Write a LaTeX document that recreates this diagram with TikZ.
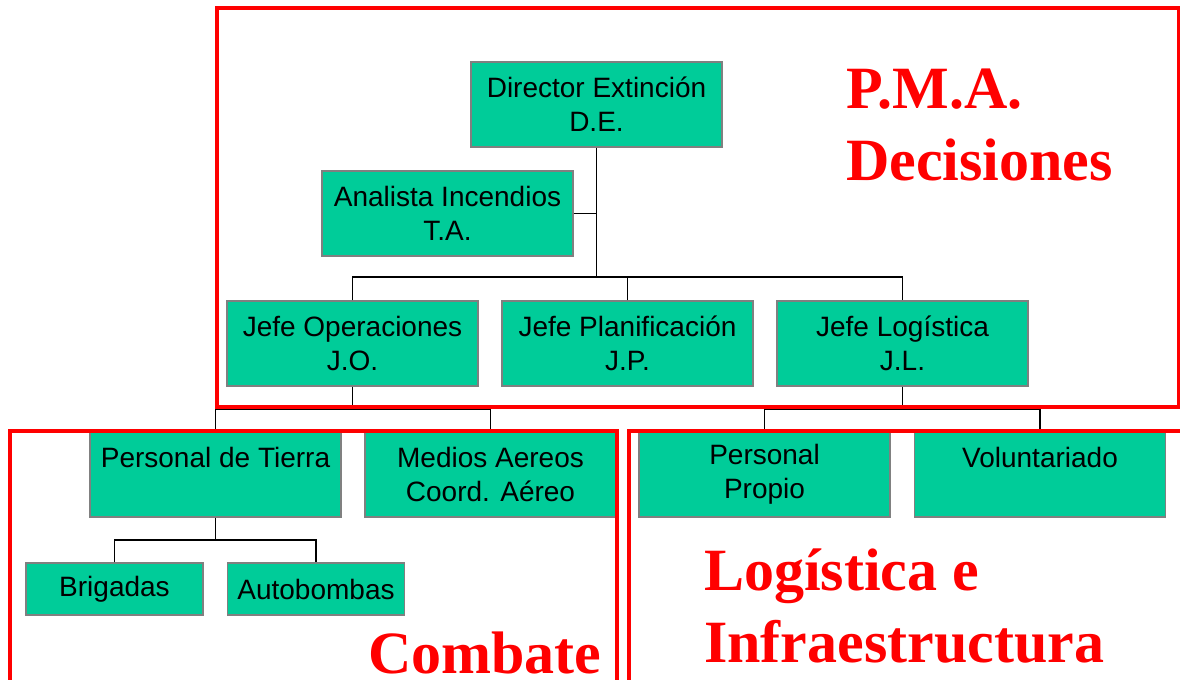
\documentclass[tikz,border=0pt]{standalone}
\usepackage{fontspec}
\setmainfont{Liberation Sans}
\newfontfamily\titlefont{Liberation Serif}
\definecolor{boxgreen}{RGB}{0,204,153}
\definecolor{boxgray}{RGB}{128,128,128}
\tikzset{
  cargo/.style={draw=boxgray, line width=1pt, fill=boxgreen, minimum width=188.25pt, minimum height=63.75pt,
    inner sep=0pt, align=center, font=\fontsize{21}{25.5}\selectfont},
  cargochico/.style={cargo, minimum width=132.75pt, minimum height=39pt},
  zona/.style={draw=red, line width=2.4pt},
  titulo/.style={text=red, anchor=base west, align=left, inner sep=0pt,
    font=\titlefont\bfseries\fontsize{45}{54}\selectfont},
  enlace/.style={line width=1pt}
}
\begin{document}
\begin{tikzpicture}[x=0.75pt, y=-0.75pt]
\useasboundingbox (0,0) rectangle (1180,679);
\node[cargo] (DE) at (596.5,104.5) {Director Extinción\\D.E.};
\node[cargo] (TA) at (447.5,213.5) {Analista Incendios\\T.A.};
\node[cargo] (JO) at (352.5,343.5) {Jefe Operaciones\\J.O.};
\node[cargo] (JP) at (627.5,343.5) {Jefe Planificación\\J.P.};
\node[cargo] (JL) at (902.5,343.5) {Jefe Logística\\J.L.};
\node[cargo] (PT) at (215.5,474.5) {Personal de Tierra\\\mbox{}};
\node[cargo] (MA) at (490.5,474.5) {Medios Aereos\\Coord. Aéreo};
\node[cargo] (PP) at (764.5,474.5) {Personal\\Propio};
\node[cargo] (VO) at (1040,474.5) {Voluntariado\\\mbox{}};
\node[cargochico] (BR) at (114.5,589) {Brigadas};
\node[cargochico] (AB) at (316,589) {Autobombas};
\coordinate (busDE) at (596.5,277);
\coordinate (busJO) at (352.5,409);
\coordinate (busJL) at (902.5,409);
\coordinate (busPT) at (215.5,540);
\draw[enlace] (DE.south) -- (busDE);
\draw[enlace] (TA.east) -- (TA.east -| DE.south);
\draw[enlace] (JO.north) -- (JO.north |- busDE) -- (JL.north |- busDE) -- (JL.north);
\draw[enlace] (JP.north) -- (JP.north |- busDE);
\draw[enlace] (JO.south) -- (busJO);
\draw[enlace] (PT.north) -- (PT.north |- busJO) -- (MA.north |- busJO) -- (MA.north);
\draw[enlace] (JL.south) -- (busJL);
\draw[enlace] (PP.north) -- (PP.north |- busJL) -- (VO.north |- busJL) -- (VO.north);
\draw[enlace] (PT.south) -- (busPT);
\draw[enlace] (BR.north) -- (BR.north |- busPT) -- (AB.north |- busPT) -- (AB.north);
\draw[zona] (217,8) rectangle (1179,407);
\draw[zona] (10,431) rectangle (617,695);
\draw[zona] (629,431) rectangle (1195,695);
\node[titulo] (pma) at (846,180) {P.M.A.\\Decisiones};
\node[titulo] (comb) at (368,673) {Combate};
\node[titulo] (logi) at (704,662) {Logística e\\Infraestructura};
\end{tikzpicture}
\end{document}
